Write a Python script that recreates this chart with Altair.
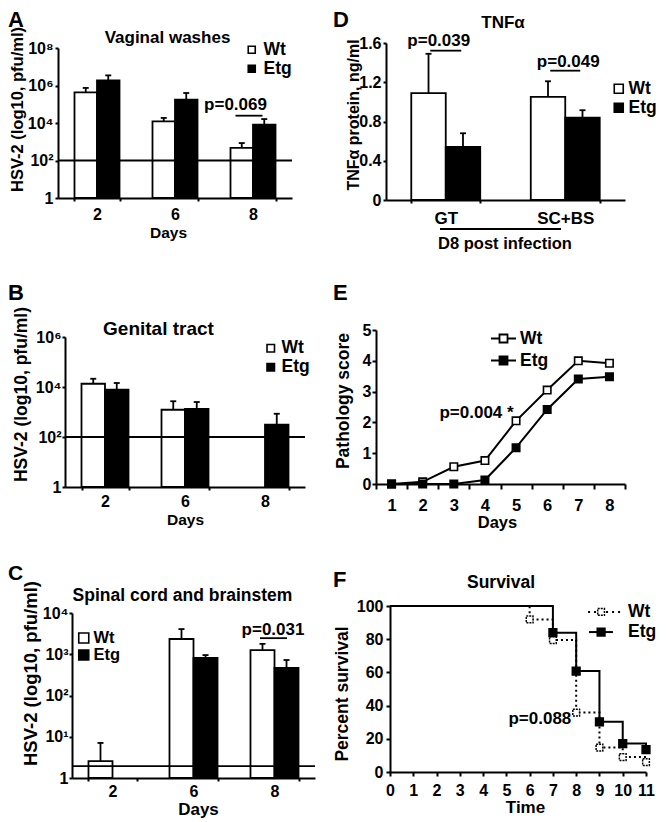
import altair as alt
import pandas as pd

FONT = "Liberation Sans"
GROUPS = ["Wt", "Etg"]
FILLS = ["white", "black"]
CELL_W, CELL_H = 325, 270   # every panel occupies one identical cell

# ---------------- Panel A : Vaginal washes (log10 pfu/ml) ----------------
a_days = ["2", "6", "8"]
a_wt = [5.63, 4.09, 2.67]
a_wt_err = [5.87, 4.27, 2.93]
a_etg = [6.27, 5.24, 3.91]
a_etg_err = [6.54, 5.60, 4.21]
a_limit = 2.0
a_ticks = [0, 2, 4, 6, 8]

# ---------------- Panel B : Genital tract ----------------
b_days = ["2", "6", "8"]
b_wt = [4.13, 3.09, None]
b_wt_err = [4.33, 3.43, None]
b_etg = [3.89, 3.12, 2.49]
b_etg_err = [4.16, 3.40, 2.93]
b_limit = 2.0
b_ticks = [0, 2, 4, 6]

# ---------------- Panel C : Spinal cord and brainstem ----------------
c_days = ["2", "6", "8"]
c_wt = [0.41, 3.37, 3.10]
c_wt_err = [0.85, 3.61, 3.25]
c_etg = [None, 2.91, 2.67]
c_etg_err = [None, 2.98, 2.86]
c_limit = 0.29
c_ticks = [0, 1, 2, 3, 4]

# ---------------- Panel D : TNFa ----------------
d_sites = ["GT", "SC+BS"]
d_wt = [1.09, 1.05]
d_wt_err = [1.49, 1.21]
d_etg = [0.54, 0.84]
d_etg_err = [0.68, 0.915]
d_ticks = [0, 0.4, 0.8, 1.2, 1.6]

# ---------------- Panel E : Pathology score ----------------
e_days = ["1", "2", "3", "4", "5", "6", "7", "8"]
e_wt = [0.0, 0.07, 0.56, 0.76, 2.05, 3.05, 4.0, 3.92]
e_etg = [0.0, 0.0, 0.0, 0.13, 1.18, 2.42, 3.41, 3.48]
e_ticks = [0, 1, 2, 3, 4, 5]

# ---------------- Panel F : Survival ----------------
f_wt_time = [0, 6, 7, 8, 9, 10, 11]
f_wt_surv = [100, 91.9, 79.5, 35.8, 14.7, 9.0, 6.0]
f_etg_time = [0, 7, 8, 9, 10, 11]
f_etg_surv = [100, 83.9, 60.8, 30.2, 17.1, 13.5]
f_xticks = list(range(12))
f_yticks = [0, 20, 40, 60, 80, 100]

ONE = alt.Data(values=[{"k": 0}])
SUP = "['\u2070','\u00b9','\u00b2','\u00b3','\u2074','\u2075','\u2076','\u2077','\u2078','\u2079']"
LOG_EXPR = "datum.value == 0 ? '1' : '10' + " + SUP + "[datum.value]"


def label(txt, x, y, size, align="left", baseline="top"):
    return alt.Chart(ONE).mark_text(
        text=txt, font=FONT, fontSize=size, fontWeight="bold", color="black",
        align=align, baseline=baseline).encode(x=alt.value(x), y=alt.value(y))


def sq_legend(x, y, size, offset, font):
    return dict(orient="none", legendX=x, legendY=y, title=None, symbolType="square",
                symbolSize=size, symbolStrokeColor="black", symbolStrokeWidth=1.6,
                labelFontSize=font, labelFontWeight="bold", labelFont=FONT,
                labelColor="black", rowPadding=0, labelOffset=offset,
                padding=0, symbolOffset=0)


def bar_layers(cats, wt, wt_err, etg, etg_err, rect, pad_inner, ydom, yticks, ylabel_expr,
               yaxis, xaxis, legend, limit=None, notes=(), lines=()):
    x0, x1, y0, y1 = rect
    rows = []
    for grp, vals, errs in (("Wt", wt, wt_err), ("Etg", etg, etg_err)):
        for c, v, e in zip(cats, vals, errs):
            if v is not None:
                rows.append({"cat": c, "group": grp, "val": v, "err": e})
    df = pd.DataFrame(rows)
    xscale = alt.Scale(domain=cats, range=[x0, x1], paddingInner=pad_inner,
                       paddingOuter=pad_inner / 2)
    yscale = alt.Scale(domain=ydom, range=[y1, y0], nice=False, zero=True)
    X = alt.X("cat:N", scale=xscale,
              axis=alt.Axis(labelAngle=0, tickBand="extent", titleBaseline="middle",
                            offset=-(CELL_H - y1), **xaxis))
    XO = alt.XOffset("group:N", scale=alt.Scale(domain=GROUPS, paddingInner=0, paddingOuter=0))
    Y = alt.Y("val:Q", scale=yscale,
              axis=alt.Axis(values=yticks, labelExpr=ylabel_expr, titleAngle=270,
                            titleBaseline="middle", offset=-x0, **yaxis))
    bars = alt.Chart(df).mark_bar(stroke="black", strokeWidth=1.8).encode(
        x=X, xOffset=XO, y=Y,
        fill=alt.Fill("group:N", scale=alt.Scale(domain=GROUPS, range=FILLS),
                      legend=alt.Legend(**legend)))
    whisk = alt.Chart(df).mark_rule(color="black", strokeWidth=1.8).encode(
        x=X, xOffset=XO, y=Y, y2="err:Q")
    caps = alt.Chart(df.assign(val=df["err"])).mark_tick(
        color="black", size=6, thickness=1.8, opacity=1).encode(x=X, xOffset=XO, y=Y)
    layers = [bars, whisk, caps]
    if limit is not None:
        layers.append(alt.Chart(pd.DataFrame({"val": [limit]})).mark_rule(
            color="black", strokeWidth=1.8).encode(y=Y, x=alt.value(x0), x2=alt.value(x1)))
    for cat, val, txt, dx in notes:
        layers.append(alt.Chart(pd.DataFrame({"cat": [cat], "val": [val], "txt": [txt]})).mark_text(
            font=FONT, fontSize=17, fontWeight="bold", color="black", dx=dx,
            baseline="middle").encode(x=X, y=Y, text="txt:N"))
    for cat, val, size, off in lines:
        layers.append(alt.Chart(pd.DataFrame({"cat": [cat], "val": [val]})).mark_tick(
            color="black", size=size, thickness=1.8, xOffset=off, opacity=1).encode(x=X, y=Y))
    return layers


# ---------------- Panel A ----------------
A = alt.layer(
    *bar_layers(a_days, a_wt, a_wt_err, a_etg, a_etg_err, (50, 284, 40, 190), 0.423, [0, 8],
                a_ticks, LOG_EXPR,
                yaxis=dict(title="HSV-2 (log10, pfu/ml)", titleX=-41, titleY=101,
                           titleFontSize=16.5, tickSize=3, labelPadding=2),
                xaxis=dict(title="Days", titleX=160, titleY=34, titleFontSize=15.5,
                           tickSize=3, labelPadding=5),
                legend=sq_legend(235, 33, 49, 3, 17.5),
                limit=a_limit,
                notes=[("8", 4.95, "p=0.069", -17.5)],
                lines=[("8", 4.39, 27, -4)]),
    label("Vaginal washes", 159.5, 29.5, 17, align="center", baseline="middle"),
    label("A", 0, 2, 22),
).properties(width=CELL_W, height=CELL_H)

# ---------------- Panel D ----------------
D = alt.layer(
    *bar_layers(d_sites, d_wt, d_wt_err, d_etg, d_etg_err, (53, 292, 35, 192), 0.423, [0, 1.6],
                d_ticks, "datum.value == 0 ? '0' : format(datum.value, '.1f')",
                yaxis=dict(title="TNF\u03b1 protein, ng/ml", titleX=-33, titleY=106.5,
                           titleFontSize=16, tickSize=3, labelPadding=2),
                xaxis=dict(title="D8 post infection", titleX=171.5, titleY=43,
                           titleFontSize=16.5, tickSize=3, labelPadding=7, labelFontSize=17),
                legend=sq_legend(277, 72, 81, 1, 17.5),
                notes=[("GT", 1.616, "p=0.039", -7), ("SC+BS", 1.41, "p=0.049", 3)],
                lines=[("GT", 1.522, 31, 0), ("SC+BS", 1.318, 30, 0)]),
    alt.Chart(ONE).mark_rule(color="black", strokeWidth=1.8).encode(
        x=alt.value(107), x2=alt.value(228), y=alt.value(221)),
    label("TNF\u03b1", 170, 14.5, 17, align="center", baseline="middle"),
    label("D", 0, 2, 22),
).properties(width=CELL_W, height=CELL_H)

# ---------------- Panel B ----------------
B = alt.layer(
    *bar_layers(b_days, b_wt, b_wt_err, b_etg, b_etg_err, (57, 297, 59, 209), 0.4125, [0, 6],
                b_ticks, LOG_EXPR,
                yaxis=dict(title="HSV-2 (log10, pfu/ml)", titleX=-43.5, titleY=116,
                           titleFontSize=17.5, tickSize=3, labelPadding=1),
                xaxis=dict(title="Days", titleX=177, titleY=32, titleFontSize=15.5,
                           tickSize=3, labelPadding=3),
                legend=sq_legend(254, 61.5, 56, 2, 17.5),
                limit=b_limit),
    label("Genital tract", 150.5, 50.5, 19, align="center", baseline="middle"),
    label("B", 0, 5, 22),
).properties(width=CELL_W, height=CELL_H)

# ---------------- Panel E ----------------
ex0, ex1, ey0, ey1 = 43, 292, 52, 206
e_rows = []
for grp, arr in (("Wt", e_wt), ("Etg", e_etg)):
    for d, s in zip(e_days, arr):
        e_rows.append({"day": d, "group": grp, "score": s})
e_df = pd.DataFrame(e_rows)
e_xs = alt.Scale(domain=e_days, range=[ex0, ex1], paddingInner=0, paddingOuter=0)
e_ys = alt.Scale(domain=[0, 5], range=[ey1, ey0], nice=False, zero=True)
EX = alt.X("day:N", scale=e_xs, axis=alt.Axis(
    labelAngle=0, tickBand="extent", tickSize=5, labelPadding=8, labelFontSize=16.5,
    title="Days", titleX=164, titleY=38, titleBaseline="middle", titleFontSize=16.5,
    offset=-(CELL_H - ey1)))
EY = alt.Y("score:Q", scale=e_ys, axis=alt.Axis(
    values=e_ticks, tickSize=4, labelPadding=1, title="Pathology score", titleX=-33,
    titleY=122.5, titleAngle=270, titleBaseline="middle", titleFontSize=17.5, offset=-ex0))
E_LEG = dict(orient="none", legendX=157, legendY=47, title=None,
             symbolType="M-1,0H-0.32M0.32,0H1M-0.32,-0.32H0.32V0.32H-0.32Z",
             symbolSize=625, symbolStrokeColor="black", symbolStrokeWidth=1.8,
             labelFontSize=17.5, labelFontWeight="bold", labelFont=FONT, labelColor="black",
             rowPadding=0, labelOffset=3, padding=0, symbolOffset=0)
E = alt.layer(
    alt.Chart(e_df).mark_line(color="black", strokeWidth=2).encode(x=EX, y=EY, detail="group:N"),
    alt.Chart(e_df).mark_square(size=55, stroke="black", strokeWidth=1.6, opacity=1).encode(
        x=EX, y=EY,
        fill=alt.Fill("group:N", scale=alt.Scale(domain=GROUPS, range=FILLS),
                      legend=alt.Legend(**E_LEG))),
    alt.Chart(pd.DataFrame({"day": ["4"], "score": [2.29], "txt": ["p=0.004 *"]})).mark_text(
        font=FONT, fontSize=17, fontWeight="bold", color="black", dx=-8.4,
        baseline="middle").encode(x=EX, y=EY, text="txt:N"),
    label("E", 0, 5, 22),
).properties(width=CELL_W, height=CELL_H)

# ---------------- Panel C ----------------
C = alt.layer(
    *bar_layers(c_days, c_wt, c_wt_err, c_etg, c_etg_err, (64, 307, 65, 230), 0.407, [0, 4],
                c_ticks, LOG_EXPR,
                yaxis=dict(title="HSV-2 (log10, pfu/ml)", titleX=-42, titleY=125,
                           titleFontSize=18.5, tickSize=3, labelPadding=1),
                xaxis=dict(title="Days", titleX=190, titleY=31, titleFontSize=17,
                           tickSize=3, labelPadding=2),
                legend=sq_legend(67.5, 81.75, 100, 1.5, 16.5),
                limit=c_limit,
                notes=[("8", 3.6, "p=0.031", -1.5)],
                lines=[("8", 3.39, 27, -1)]),
    label("Spinal cord and brainstem", 174.5, 48, 17.5, align="center", baseline="middle"),
    label("C", 0, 15, 21),
).properties(width=CELL_W, height=CELL_H)

# ---------------- Panel F ----------------
fx0, fx1, fy0, fy1 = 57, 313, 58, 224
f_rows = ([{"time": t, "surv": s, "group": "Wt"} for t, s in zip(f_wt_time, f_wt_surv)]
          + [{"time": t, "surv": s, "group": "Etg"} for t, s in zip(f_etg_time, f_etg_surv)])
f_df = pd.DataFrame(f_rows)
f_xs = alt.Scale(domain=[0, 11], range=[fx0, fx1], nice=False, zero=True)
f_ys = alt.Scale(domain=[0, 100], range=[fy1, fy0], nice=False, zero=True)
FX = alt.X("time:Q", scale=f_xs, axis=alt.Axis(
    values=f_xticks, tickSize=4, labelPadding=6, labelFlush=False, labelOverlap=False,
    title="Time", titleX=192, titleY=35, titleBaseline="middle", titleFontSize=17,
    offset=-(CELL_H - fy1)))
FY = alt.Y("surv:Q", scale=f_ys, axis=alt.Axis(
    values=f_yticks, tickSize=4, labelPadding=3, title="Percent survival", titleX=-47.5,
    titleY=145.5, titleAngle=270, titleBaseline="middle", titleFontSize=17.5, offset=-fx0))

# legend of panel F, drawn in the panel's own data space (time / percent)
f_leg_line = pd.DataFrame({"group": ["Wt", "Etg"], "time": [8.51, 8.55],
                           "time2": [9.93, 9.58], "surv": [96.4, 84.3]})
f_leg_mark = pd.DataFrame({"group": ["Wt", "Etg"], "time": [9.07, 9.07], "surv": [96.4, 84.3]})
f_leg_text = pd.DataFrame({"group": ["Wt", "Etg"], "time": [10.23, 10.23], "surv": [96.4, 84.3]})
F = alt.layer(
    alt.Chart(f_df).mark_line(interpolate="step-after", color="black", strokeWidth=2).encode(
        x=FX, y=FY,
        strokeDash=alt.StrokeDash("group:N", scale=alt.Scale(domain=GROUPS, range=[[2, 3], [1, 0]]),
                                  legend=None)),
    alt.Chart(f_df).transform_filter("datum.time > 0 && datum.group == 'Wt'").mark_square(
        size=45, fill="white", stroke="black", strokeWidth=1.5, strokeDash=[2, 1],
        opacity=1).encode(x=FX, y=FY),
    alt.Chart(f_df).transform_filter("datum.time > 0 && datum.group == 'Etg'").mark_square(
        size=60, fill="black", stroke="black", strokeWidth=1.5, opacity=1).encode(x=FX, y=FY),
    # legend samples
    alt.Chart(f_leg_line).transform_filter("datum.group == 'Wt'").mark_rule(
        color="black", strokeWidth=2, strokeDash=[2, 4]).encode(x=FX, x2="time2:Q", y=FY),
    alt.Chart(f_leg_line).transform_filter("datum.group == 'Etg'").mark_rule(
        color="black", strokeWidth=2).encode(x=FX, x2="time2:Q", y=FY),
    alt.Chart(f_leg_mark).transform_filter("datum.group == 'Wt'").mark_square(
        size=45, fill="white", stroke="black", strokeWidth=1.5, strokeDash=[2, 1],
        opacity=1).encode(x=FX, y=FY),
    alt.Chart(f_leg_mark).transform_filter("datum.group == 'Etg'").mark_square(
        size=60, fill="black", stroke="black", strokeWidth=1.5, opacity=1).encode(x=FX, y=FY),
    alt.Chart(f_leg_text).mark_text(font=FONT, fontSize=17.5, fontWeight="bold", color="black",
                                    align="left", baseline="middle").encode(
        x=FX, y=FY, text="group:N"),
    alt.Chart(pd.DataFrame({"time": [7.79], "surv": [32.2], "txt": ["p=0.088"]})).mark_text(
        font=FONT, fontSize=17, fontWeight="bold", color="black", align="right",
        baseline="middle").encode(x=FX, y=FY, text="txt:N"),
    label("Survival", 168, 34.5, 17.5, align="center", baseline="middle"),
    label("F", 0, 22, 22),
).properties(width=CELL_W, height=CELL_H)

chart = alt.concat(A, D, B, E, C, F, columns=2, spacing=0, padding=0)
chart = chart.resolve_scale(
    x="independent", y="independent", xOffset="independent",
    fill="independent", strokeDash="independent",
).resolve_legend(fill="independent", strokeDash="independent")
chart = chart.configure_view(strokeWidth=0).configure_axis(
    domainColor="black", domainWidth=2, tickColor="black", tickWidth=2,
    labelColor="black", labelFont=FONT, labelFontSize=16, labelFontWeight="bold",
    titleColor="black", titleFont=FONT, titleFontWeight="bold", grid=False, zindex=1,
).configure_legend(labelFont=FONT, labelFontWeight="bold", labelColor="black")

chart.save("out.html", embed_options={"renderer": "svg", "actions": False})
